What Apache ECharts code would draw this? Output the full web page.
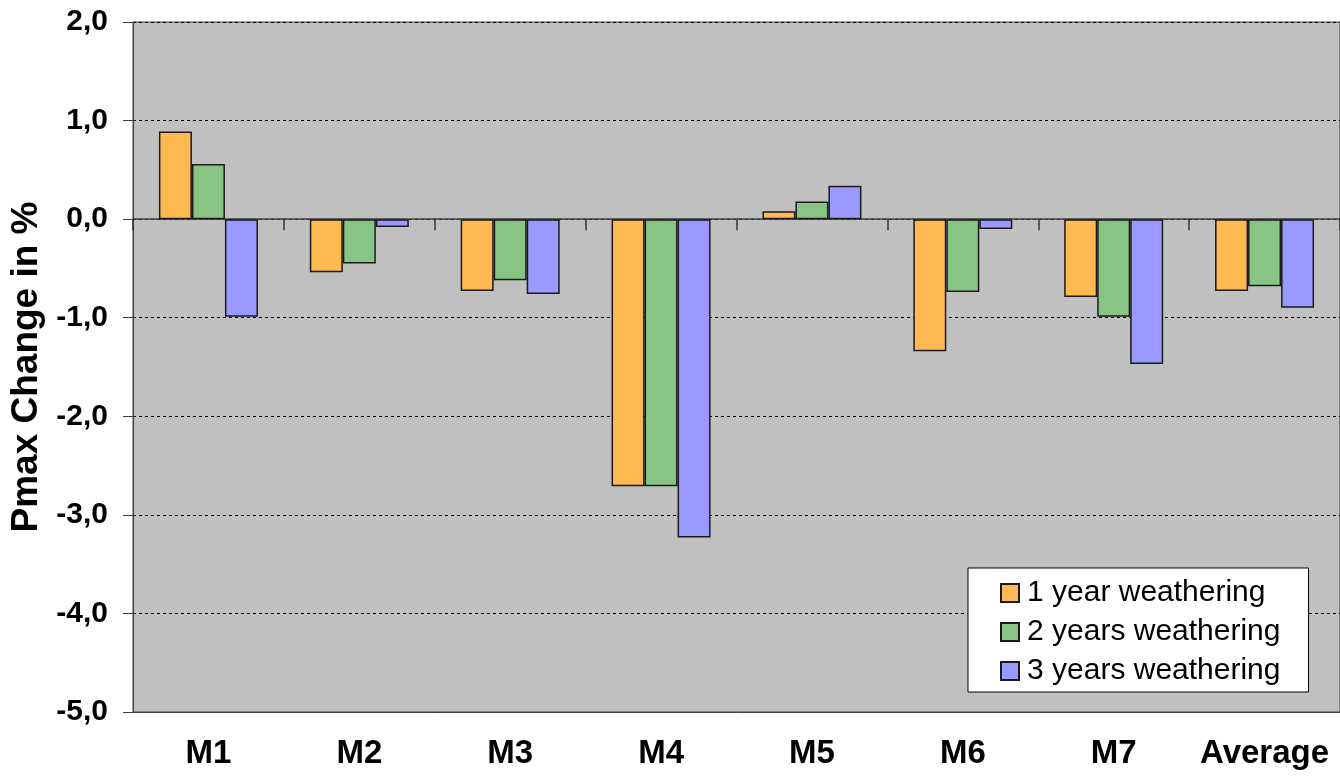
<!DOCTYPE html>
<html>
<head>
<meta charset="utf-8">
<script src="https://cdn.jsdelivr.net/npm/echarts@6/dist/echarts.min.js"></script>
<style>
  html, body { margin: 0; padding: 0; background: #ffffff; }
  #chart { width: 1340px; height: 777px; }
</style>
</head>
<body>
<div id="chart"></div>
<script>
// Modules and the average over all of them
const categories = ['M1', 'M2', 'M3', 'M4', 'M5', 'M6', 'M7', 'Average'];

// Pmax change in % after each weathering period
const year1 = [0.89, -0.54, -0.73, -2.71, 0.08, -1.34, -0.79, -0.73];
const years2 = [0.56, -0.45, -0.62, -2.71, 0.18, -0.74, -0.99, -0.68];
const years3 = [-0.99, -0.08, -0.76, -3.23, 0.34, -0.10, -1.47, -0.90];

const seriesNames = ['1 year weathering', '2 years weathering', '3 years weathering'];
const seriesColors = ['#ffb951', '#88c484', '#9999ff'];

const yMin = -5, yMax = 2, yStep = 1;

const chart = echarts.init(document.getElementById('chart'));

const barSeries = [year1, years2, years3].map((values, i) => ({
  name: seriesNames[i],
  type: 'bar',
  xAxisIndex: 0,
  data: values,
  barWidth: 33,
  barGap: '0%',
  itemStyle: { color: seriesColors[i], borderColor: '#1a1a1a', borderWidth: 1.5 },
  emphasis: { disabled: true }
}));

chart.setOption({
  animation: false,
  textStyle: { fontFamily: 'Liberation Sans, Arial, sans-serif' },
  grid: {
    left: 133, top: 22, right: -3, bottom: 65,
    show: true,
    backgroundColor: '#c0c0c0',
    borderColor: '#404040',
    borderWidth: 1
  },
  legend: {
    orient: 'vertical',
    left: 968,
    top: 568,
    backgroundColor: '#ffffff',
    borderColor: '#000000',
    borderWidth: 1,
    borderRadius: 0,
    padding: [10, 28, 6, 32],
    itemWidth: 18,
    itemHeight: 18,
    itemGap: 9,
    icon: 'rect',
    textStyle: {
      fontFamily: 'Liberation Sans, Arial, sans-serif',
      fontSize: 30,
      color: '#000000',
      lineHeight: 30,
      padding: [0, 0, 0, 3]
    },
    data: seriesNames
  },
  xAxis: [
    {
      // zero line with category separators
      type: 'category',
      data: categories,
      position: 'bottom',
      axisLine: { onZero: true, lineStyle: { color: '#404040', width: 1.5 } },
      axisTick: { show: true, length: 11, lineStyle: { color: '#333333', width: 1.5 } },
      axisLabel: { show: false },
      splitLine: { show: false }
    },
    {
      // category names along the bottom edge
      type: 'category',
      data: categories,
      position: 'bottom',
      axisLine: { onZero: false, show: true, lineStyle: { color: '#404040', width: 1 } },
      axisTick: { show: false },
      axisLabel: {
        show: true,
        interval: 0,
        margin: 25,
        fontSize: 33,
        fontWeight: 'bold',
        color: '#000000',
        fontFamily: 'Liberation Sans, Arial, sans-serif'
      },
      splitLine: { show: false }
    }
  ],
  yAxis: {
    type: 'value',
    min: yMin,
    max: yMax,
    interval: yStep,
    name: 'Pmax Change in %',
    nameLocation: 'middle',
    nameRotate: 90,
    nameGap: 85,
    nameTextStyle: {
      fontSize: 37,
      fontWeight: 'bold',
      color: '#000000',
      fontFamily: 'Liberation Sans, Arial, sans-serif'
    },
    axisLine: { show: true, lineStyle: { color: '#404040', width: 1 } },
    axisTick: { show: true, length: 10, lineStyle: { color: '#404040', width: 1 } },
    axisLabel: {
      margin: 25,
      fontSize: 30,
      fontWeight: 'bold',
      color: '#000000',
      fontFamily: 'Liberation Sans, Arial, sans-serif',
      formatter: v => v.toFixed(1).replace('.', ',')
    },
    splitLine: { show: true, lineStyle: { color: '#000000', width: 1, type: [3, 3] } }
  },
  series: barSeries
});
</script>
</body>
</html>
